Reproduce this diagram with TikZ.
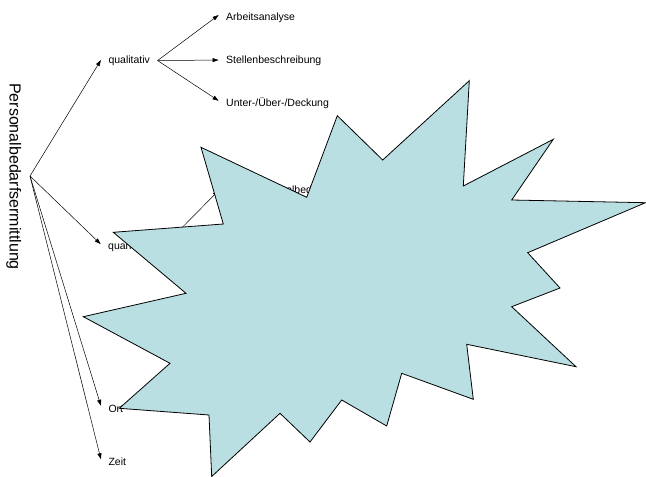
\documentclass[tikz,border=0pt]{standalone}
\usepackage{fontspec}
\setmainfont{Liberation Sans}
\usetikzlibrary{arrows.meta}
\definecolor{burst}{RGB}{185,223,227}
\tikzset{
  lbl/.style={font=\fontsize{10.5}{12}\selectfont, inner xsep=7.4pt, inner ysep=0pt,
    text height=7.7pt, text depth=2.2pt, anchor=west},
  conn/.style={line width=0.5pt, -{Triangle[length=6pt,width=4pt]}},
  titlestyle/.style={font=\fontsize{16}{19}\selectfont, inner sep=0pt},
  burststyle/.style={fill=burst, draw=black, line width=0.8pt, line join=miter}
}
\begin{document}
\begin{tikzpicture}[x=1pt,y=-1pt]
\useasboundingbox (0,0) rectangle (646,477);
% title
\node[titlestyle, rotate=-90, anchor=base] (title) at (9.5,176.5) {Personalbedarfsermittlung};
\coordinate (root) at (30,176);
% level 1
\node[lbl] (qual) at (100.9,60.55) {qualitativ};
\node[lbl] (quan) at (100.6,246.25) {quantitativ};
\node[lbl] (ort) at (100.9,409.25) {Ort};
\node[lbl] (zeit) at (100.9,462.25) {Zeit};
% level 2
\node[lbl] (arb) at (218.6,17.25) {Arbeitsanalyse};
\node[lbl] (stb) at (218.6,60.55) {Stellenbeschreibung};
\node[lbl] (ued) at (218.6,103.95) {Unter-/Über-/Deckung};
\node[lbl] (bpb) at (218.6,190.55) {Bruttopersonalbedarf};
% connectors
\draw[conn] (root) -- ([yshift=0.5pt]qual.west);
\draw[conn] (root) -- ([yshift=2.2pt]quan.west);
\draw[conn] (root) -- ([yshift=3.5pt]ort.west);
\draw[conn] (root) -- ([yshift=3pt]zeit.west);
\draw[conn] (qual.east) -- ([yshift=2.2pt]arb.west);
\draw[conn] (qual.east) -- ([yshift=0.5pt]stb.west);
\draw[conn] (qual.east) -- ([yshift=3.2pt]ued.west);
\draw[conn] (quan.east) -- (bpb.west);
% starburst
\draw[burststyle] (469.3,80.7) -- (463.3,186) -- (553.3,139.3) -- (511.7,200)
  -- (645.5,202.7) -- (527.7,252.7) -- (560,288) -- (511.7,306.7)
  -- (576,366.7) -- (466.7,344.3) -- (473.3,399.3) -- (401.7,373.3)
  -- (386.7,426) -- (341.7,400) -- (310,442) -- (280,413.3)
  -- (211.7,476.5) -- (209,415) -- (119.3,408.3) -- (170,363.3)
  -- (83.3,316.7) -- (186,293.3) -- (113.3,232.3) -- (223.3,224)
  -- (201,147.3) -- (306.7,197.3) -- (337.3,115.7) -- (382.7,160) -- cycle;
\end{tikzpicture}
\end{document}
